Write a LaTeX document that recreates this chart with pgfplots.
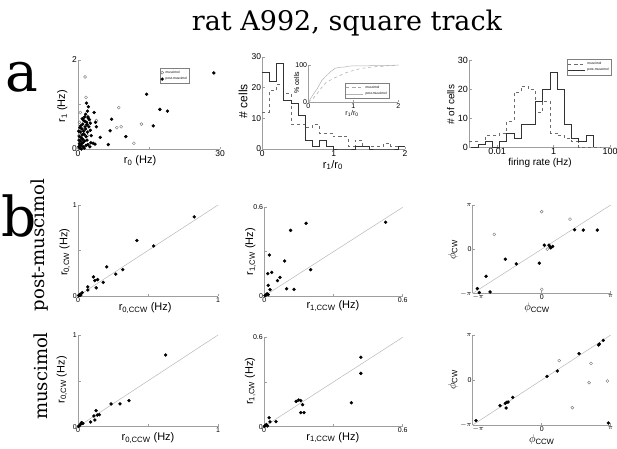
\documentclass[border=0pt]{standalone}
\usepackage{fontspec}
\setmainfont{Liberation Sans}
\newfontfamily\dvs{DejaVu Serif}
\usepackage{pgfplots}
\pgfplotsset{compat=1.18}
\definecolor{axgray}{gray}{0.62}
\definecolor{diag}{gray}{0.72}
\definecolor{ocirc}{gray}{0.45}
\pgfplotsset{
  base/.style={
    scale only axis,
    axis lines=left,
    axis line style={axgray, line width=1pt, -},
    tick style={axgray, line width=0.5pt},
    major tick length=2.5pt,
    tick align=inside,
    /pgf/number format/assume math mode=true,
    tick label style={font=\fontsize{7}{8}\selectfont, text=black, inner sep=1pt},
    label style={font=\fontsize{11}{12}\selectfont},
    clip=false,
    anchor=south west,
    xlabel style={anchor=center},
    ylabel style={anchor=center},
  },
  xlpos/.style 2 args={xlabel style={at={(axis description cs:#1,#2)}}},
  ylpos/.style 2 args={ylabel style={at={(axis description cs:#1,#2)}}},
  fdot/.style={only marks, mark=*, mark size=1.5pt, black},
  odot/.style={only marks, mark=o, mark size=1.5pt, ocirc, mark options={line width=0.4pt}},
  tinyleg/.style={legend style={font=\fontsize{3.3}{3.8}\selectfont, draw=gray, line width=0.3pt, inner sep=0.6pt, row sep=-1.5pt, legend cell align=left, anchor=north west}},
}
\begin{document}
\begin{tikzpicture}[x=1pt,y=1pt]
\useasboundingbox (0,0) rectangle (617,448);
% titles
\node[anchor=base, font=\dvs\fontsize{27}{31}\selectfont, inner sep=0] at (347,417) {rat A992, square track};
\node[anchor=base, font=\dvs\fontsize{55}{60}\selectfont, inner sep=0] at (22,356) {a};
\node[anchor=base, font=\dvs\fontsize{55}{60}\selectfont, inner sep=0] at (19,212) {b};
\node[rotate=90, font=\dvs\fontsize{18}{21}\selectfont, inner sep=0] at (40,203) {post-muscimol};
\node[rotate=90, font=\dvs\fontsize{18}{21}\selectfont, inner sep=0] at (41,72) {muscimol};

% ---------------- a1 scatter
\begin{axis}[base, at={(78pt,299pt)}, width=142pt, height=89pt,
  xmin=0, xmax=30, ymin=0, ymax=2,
  xtick={0,15,30}, xticklabels={0,,30}, ytick={0,1,2}, yticklabels={0,,2},
  tick label style={font=\fontsize{8.5}{9}\selectfont},
  xlabel={r\textsubscript{0} (Hz)}, ylabel={r\textsubscript{1} (Hz)},
  xlpos={0.437}{-0.13}, ylpos={-0.11}{0.48},
  tinyleg, legend style={at={(axis description cs:0.577,0.91)}}]
\addplot[odot] coordinates {(1.5,1.62) (1.7,1.16) (0.5,0.82) (3.9,0.64) (8.6,0.93) (8.2,0.48) (9.1,0.50) (13.4,0.56) (11.8,0.13) (0.3,0.6) (0.2,0.3) (0.6,0.1) (1.0,0.45) (0.4,0.05) (0.8,0.2) (1.2,0.7) (0.1,0.02) (2.0,0.3)};
\addlegendentry{muscimol}
\addplot[fdot] coordinates {(28.7,1.71) (14.5,1.23) (17.3,0.89) (18.9,0.85) (15.9,0.52) (7.1,0.67) (6.8,0.41) (10.1,0.28) (4.7,0.26) (6.4,0.10) (1.8,1.03) (3.4,0.82) (2.2,0.95) (2.2,0.69) (3.7,0.6) (3.9,0.5) (3.2,0.13) (3.6,0.11) (2.7,0.14) (2.5,0.05)
(0.2,0.05) (0.3,0.12) (0.4,0.02) (0.5,0.18) (0.6,0.08) (0.7,0.25) (0.8,0.12) (0.9,0.32) (1.0,0.22) (1.1,0.05) (1.2,0.4) (1.3,0.33) (1.4,0.18) (1.5,0.5) (1.6,0.45) (1.7,0.28) (1.8,0.6) (1.9,0.55) (2.0,0.38) (2.1,0.72) (2.3,0.5) (2.4,0.66) (2.6,0.58) (0.5,0.38) (0.8,0.45) (1.0,0.56) (1.2,0.64) (0.6,0.52) (0.9,0.68) (1.4,0.72) (1.6,0.78) (0.3,0.28) (1.1,0.15) (1.9,0.2) (2.8,0.3) (0.15,0.4) (0.4,0.48) (1.3,0.02) (0.7,0.0) (2.1,0.1) (1.7,0.08) (0.2,0.2) (2.6,0.42) (1.5,0.62) (2.0,0.85)};
\addlegendentry{post-muscimol}
\end{axis}

% ---------------- a2 histogram
\begin{axis}[base, at={(262.3pt,299pt)}, width=142.7pt, height=92pt,
  xmin=0, xmax=2, ymin=0, ymax=30,
  xtick={0,1,2}, ytick={0,10,20,30},
  tick label style={font=\fontsize{8.5}{9}\selectfont},
  xlabel={r\textsubscript{1}/r\textsubscript{0}}, ylabel={\fontsize{12}{13}\selectfont\# cells},
  xlpos={0.495}{-0.175}, ylpos={-0.135}{0.52}]
\addplot[const plot mark left, gray!85!black, dashed, line width=0.6pt] coordinates {(0,12) (0.1,19) (0.2,21) (0.3,18) (0.4,8) (0.5,8) (0.6,7) (0.7,8) (0.8,5) (0.9,5) (1.0,4) (1.1,4) (1.2,1) (1.3,3) (1.4,1) (1.5,1) (1.6,1) (1.7,2) (1.8,1) (1.9,1) (2.0,1)};
\addplot[const plot mark left, black!80, line width=0.6pt] coordinates {(0,25) (0.1,22) (0.2,28) (0.3,16) (0.4,15) (0.5,11) (0.6,3) (0.7,1) (0.8,3) (0.9,1) (1.0,0) (1.1,0) (1.2,0) (1.3,1) (1.4,1) (1.5,0) (1.6,0) (1.7,0) (1.8,0) (1.9,1) (2.0,1)};
\end{axis}

% ---------------- a2 inset (cumulative)
\begin{axis}[base, at={(308.3pt,345.7pt)}, width=90pt, height=37.3pt,
  xmin=0, xmax=2, ymin=0, ymax=100,
  xtick={0,1,2}, ytick={0,100},
  tick label style={font=\fontsize{7}{8}\selectfont},
  label style={font=\fontsize{7}{8}\selectfont},
  xlabel={r\textsubscript{1}/r\textsubscript{0}}, ylabel={\% cells},
  xlpos={0.486}{-0.3}, ylpos={-0.13}{0.52},
  tinyleg, legend style={at={(axis description cs:0.41,0.52)}}]
\addplot[gray!70, dashed, line width=0.5pt] coordinates {(0,0) (0.1,9.2) (0.2,23.8) (0.3,40) (0.4,53.8) (0.5,60) (0.6,66.2) (0.7,71.5) (0.8,77.7) (0.9,81.5) (1.0,85.4) (1.1,88.5) (1.2,91.5) (1.3,92.3) (1.4,94.6) (1.5,95.4) (1.6,96.2) (1.7,96.9) (1.8,98.5) (1.9,99.2) (2.0,100)};
\addlegendentry{muscimol}
\addplot[gray!60, line width=0.5pt] coordinates {(0,0) (0.1,19.5) (0.2,36.7) (0.3,58.6) (0.4,71.1) (0.5,82.8) (0.6,91.4) (0.7,93.8) (0.8,94.5) (0.9,96.9) (1.0,97.7) (1.1,97.7) (1.2,97.7) (1.3,97.7) (1.4,98.4) (1.5,99.2) (1.6,99.2) (1.7,99.2) (1.8,99.2) (1.9,99.2) (2.0,100)};
\addlegendentry{post-muscimol}
\end{axis}

% ---------------- a3 firing-rate histogram (log x)
\begin{axis}[base, at={(469pt,300.7pt)}, width=141pt, height=87pt,
  xmode=log, xmin=0.001, xmax=100, ymin=0, ymax=30,
  xtick={0.01,1,100}, xticklabels={0.01,1,100}, xminorticks=false,
  ytick={0,10,20,30},
  tick label style={font=\fontsize{9}{10}\selectfont},
  label style={font=\fontsize{10}{11}\selectfont},
  xlabel={firing rate (Hz)}, ylabel={\# of cells},
  xlpos={0.504}{-0.175}, ylpos={-0.13}{0.49},
  tinyleg, legend style={at={(axis description cs:0.695,1.01)}}]
\addplot[const plot mark left, gray!85!black, dashed, line width=0.6pt] coordinates {(0.001,2) (0.0020893,1) (0.0037584,4) (0.0067608,4) (0.012162,5) (0.021878,9) (0.039355,19) (0.070795,21) (0.12735,20) (0.22909,12) (0.41210,16) (0.74131,5) (1.3335,4) (2.3988,3) (4.3152,2) (7.7625,0) (13.964,0) (25.119,0) (45.186,0)};
\addlegendentry{muscimol}
\addplot[const plot mark left, black!80, line width=0.6pt] coordinates {(0.0011614,0) (0.0020893,1) (0.0037584,2) (0.0067608,0) (0.012162,2) (0.021878,5) (0.039355,3) (0.070795,8) (0.12735,8) (0.22909,16) (0.41210,20) (0.74131,26) (1.3335,20) (2.3988,8) (4.3152,3) (7.7625,2) (13.964,4) (25.119,0)};
\addlegendentry{post-muscimol}
\end{axis}

% ---------------- b1
\begin{axis}[base, at={(78pt,152pt)}, width=140pt, height=91pt,
  xmin=0, xmax=1, ymin=0, ymax=1,
  xtick={0,0.5,1}, xticklabels={0,,1}, ytick={0,0.5,1}, yticklabels={0,,1},
  xlabel={r\textsubscript{0,CCW} (Hz)}, ylabel={r\textsubscript{0,CW} (Hz)},
  xlpos={0.48}{-0.135}, ylpos={-0.095}{0.48}]
\addplot[diag, line width=0.5pt] coordinates {(0,0) (1,1)};
\addplot[fdot] coordinates {(0.83,0.87) (0.42,0.61) (0.54,0.55) (0.205,0.32) (0.32,0.29) (0.27,0.24) (0.18,0.15) (0.11,0.21) (0.14,0.18) (0.12,0.17) (0.13,0.09) (0.07,0.10) (0.07,0.066) (0.03,0.036) (0.015,0.02) (0.01,0.01) (0.005,0.005) (0.02,0.01)};
\end{axis}

% ---------------- b2
\begin{axis}[base, at={(264.3pt,152pt)}, width=138.4pt, height=88.7pt,
  xmin=0, xmax=0.6, ymin=0, ymax=0.6,
  xtick={0,0.3,0.6}, xticklabels={0,,0.6}, ytick={0,0.3,0.6}, yticklabels={0,,0.6},
  xlabel={r\textsubscript{1,CCW} (Hz)}, ylabel={r\textsubscript{1,CW} (Hz)},
  xlpos={0.496}{-0.11}, ylpos={-0.1}{0.5}]
\addplot[diag, line width=0.5pt] coordinates {(0,0) (0.6,0.6)};
\addplot[fdot] coordinates {(0.526,0.499) (0.181,0.492) (0.114,0.444) (0.022,0.277) (0.088,0.237) (0.201,0.178) (0.015,0.151) (0.032,0.160) (0.068,0.126) (0.057,0.104) (0.017,0.072) (0.025,0.043) (0.097,0.049) (0.129,0.045) (0.017,0.01) (0.008,0.008) (0.003,0.003) (0.012,0.015)};
\end{axis}

% ---------------- b3
\begin{axis}[base, at={(472.7pt,154.7pt)}, width=138pt, height=88.3pt,
  xmin=-1, xmax=1, ymin=-1, ymax=1,
  xtick={-1,0,1}, xticklabels={\makebox[0pt][l]{$-\pi$},0,$\pi$}, ytick={-1,0,1}, yticklabels={$-\pi$,0,$\pi$},
  xlabel={$\phi$\textsubscript{CCW}}, ylabel={$\phi$\textsubscript{CW}},
  xlpos={0.466}{-0.165}, ylpos={-0.143}{0.49}]
\addplot[diag, line width=0.5pt] coordinates {(-1,-1) (1,1)};
\addplot[odot] coordinates {(0,0.848) (0.41,0.68) (-0.687,0.334) (0.08,0) (0,-0.91)};
\addplot[fdot] coordinates {(-0.933,-0.893) (-0.904,-0.984) (-0.749,-0.97) (-0.807,-0.614) (-0.527,-0.227) (-0.368,-0.334) (-0.035,-0.318) (0.038,0.091) (0.106,0.091) (0.13,0.03) (0.159,0.061) (0.478,0.439) (0.603,0.432) (0.806,0.432) (0.12,0.05)};
\end{axis}

% ---------------- b4
\begin{axis}[base, at={(78pt,21.3pt)}, width=140pt, height=91.7pt,
  xmin=0, xmax=1, ymin=0, ymax=1,
  xtick={0,0.5,1}, xticklabels={0,,1}, ytick={0,0.5,1}, yticklabels={0,,1},
  xlabel={r\textsubscript{0,CCW} (Hz)}, ylabel={r\textsubscript{0,CW} (Hz)},
  xlpos={0.5}{-0.125}, ylpos={-0.115}{0.51}]
\addplot[diag, line width=0.5pt] coordinates {(0,0) (1,1)};
\addplot[fdot] coordinates {(0.626,0.782) (0.364,0.284) (0.30,0.248) (0.236,0.248) (0.129,0.175) (0.152,0.131) (0.138,0.127) (0.114,0.117) (0.121,0.073) (0.09,0.051) (0.03,0.04) (0.02,0.03) (0.01,0.01) (0.035,0.035) (0.025,0.045) (0.005,0.005)};
\end{axis}

% ---------------- b5
\begin{axis}[base, at={(264pt,21.3pt)}, width=138.7pt, height=89.4pt,
  xmin=0, xmax=0.6, ymin=0, ymax=0.6,
  xtick={0,0.3,0.6}, xticklabels={0,,0.6}, ytick={0,0.3,0.6}, yticklabels={0,,0.6},
  xlabel={r\textsubscript{1,CCW} (Hz)}, ylabel={r\textsubscript{1,CW} (Hz)},
  xlpos={0.496}{-0.12}, ylpos={-0.1}{0.51}]
\addplot[diag, line width=0.5pt] coordinates {(0,0) (0.6,0.6)};
\addplot[fdot] coordinates {(0.419,0.466) (0.419,0.358) (0.378,0.161) (0.139,0.170) (0.150,0.179) (0.159,0.175) (0.167,0.148) (0.159,0.094) (0.173,0.094) (0.052,0.034) (0.026,0.032) (0.022,0.060) (0.01,0.015) (0.005,0.008) (0.002,0.002) (0.015,0.005)};
\end{axis}

% ---------------- b6
\begin{axis}[base, at={(472.7pt,23pt)}, width=138pt, height=90pt,
  xmin=-1, xmax=1, ymin=-1, ymax=1,
  xtick={-1,0,1}, xticklabels={\makebox[0pt][l]{$-\pi$},0,$\pi$}, ytick={-1,0,1}, yticklabels={$-\pi$,0,$\pi$},
  xlabel={$\phi$\textsubscript{CCW}}, ylabel={$\phi$\textsubscript{CW}},
  xlpos={0.5}{-0.165}, ylpos={-0.143}{0.5}]
\addplot[diag, line width=0.5pt] coordinates {(-1,-1) (1,1)};
\addplot[odot] coordinates {(0.255,0.43) (0.714,0.37) (0.686,-0.06) (0.951,-0.022) (0.444,-0.615)};
\addplot[fdot] coordinates {(-0.952,-0.904) (-0.604,-0.571) (-0.527,-0.518) (-0.507,-0.496) (-0.488,-0.489) (-0.517,-0.622) (-0.42,-0.385) (0.077,0.081) (0.226,0.2) (0.541,0.585) (0.826,0.778) (0.835,0.8) (0.893,0.881) (0.966,-0.956)};
\end{axis}
\end{tikzpicture}
\end{document}
